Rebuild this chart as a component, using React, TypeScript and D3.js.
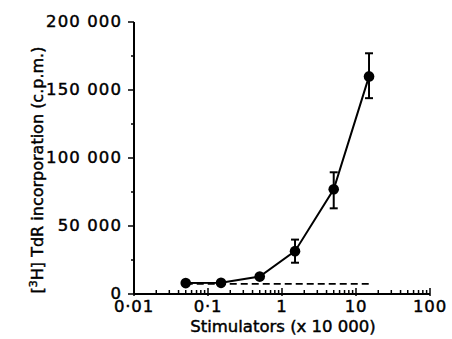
import React, { useEffect, useRef } from 'react';
import * as d3 from 'd3';

const stimulators = [0.05, 0.15, 0.5, 1.5, 5, 15];
const incorporation = [8000, 8200, 12800, 31500, 77000, 160000];
const errLow = [8000, 8200, 12000, 23000, 63000, 144000];
const errHigh = [8000, 8200, 13600, 40000, 89500, 177000];
const baseline = 7500;
const baselineRange = [0.05, 15];

const xTicks = [0.01, 0.1, 1, 10, 100];
const xTickLabels = ['0·01', '0·1', '1', '10', '100'];
const yTicks = [0, 50000, 100000, 150000, 200000];
const yTickLabels = ['0', '50 000', '100 000', '150 000', '200 000'];

export default function App() {
  const svgRef = useRef<SVGSVGElement>(null);
  const width = 452;
  const height = 339;

  useEffect(() => {
    document.body.style.margin = '0';
    if (!svgRef.current) return;
    const svg = d3.select(svgRef.current);
    svg.selectAll('*').remove();

    const font = "'DejaVu Sans', sans-serif";
    const x = d3.scaleLog().domain([0.01, 100]).range([134, 430]);
    const y = d3.scaleLinear().domain([0, 200000]).range([294, 22]);

    // text helper: medium weight look via thin stroke
    const txt = (sel: any, size: number) => sel.style('font-family', font).style('font-size', `${size}px`)
      .attr('fill', '#000').attr('stroke', '#000').attr('stroke-width', 0.45);

    // axes lines
    svg.append('line').attr('x1', x(0.01)).attr('x2', x(100)).attr('y1', y(0)).attr('y2', y(0)).attr('stroke', '#000').attr('stroke-width', 2);
    svg.append('line').attr('x1', x(0.01)).attr('x2', x(0.01)).attr('y1', y(0)).attr('y2', y(200000)).attr('stroke', '#000').attr('stroke-width', 2);

    // y ticks
    const yMinor = d3.range(25000, 200000, 50000);
    svg.selectAll('.ymaj').data(yTicks).enter().append('line')
      .attr('x1', x(0.01) - 6).attr('x2', x(0.01)).attr('y1', d => y(d)).attr('y2', d => y(d))
      .attr('stroke', '#000').attr('stroke-width', 1.5);
    svg.selectAll('.ymin').data(yMinor).enter().append('line')
      .attr('x1', x(0.01) - 3).attr('x2', x(0.01)).attr('y1', d => y(d)).attr('y2', d => y(d))
      .attr('stroke', '#000').attr('stroke-width', 1.5);
    txt(svg.selectAll('.ylab').data(yTicks).enter().append('text')
      .attr('x', x(0.01) - 12).attr('y', d => y(d) + 5).attr('text-anchor', 'end')
      .style('letter-spacing', '1.1px'), 16.5)
      .text((d: number, i: number) => yTickLabels[i]);

    // x ticks (log minor)
    const xMinor: number[] = [];
    [0.01, 0.1, 1, 10].forEach(dec => { for (let k = 2; k <= 9; k++) xMinor.push(dec * k); });
    svg.selectAll('.xmin').data(xMinor).enter().append('line')
      .attr('x1', d => x(d)).attr('x2', d => x(d)).attr('y1', y(0)).attr('y2', y(0) - 4)
      .attr('stroke', '#000').attr('stroke-width', 1.5);
    svg.selectAll('.xmaj').data(xTicks).enter().append('line')
      .attr('x1', d => x(d)).attr('x2', d => x(d)).attr('y1', y(0) + 2).attr('y2', y(0) - 6)
      .attr('stroke', '#000').attr('stroke-width', 1.5);
    txt(svg.selectAll('.xlab').data(xTicks).enter().append('text')
      .attr('x', d => x(d)).attr('y', 312).attr('text-anchor', 'middle')
      .style('letter-spacing', '0.8px'), 16.5)
      .text((d: number, i: number) => xTickLabels[i]);

    // axis titles
    txt(svg.append('text').attr('x', 283).attr('y', 332).attr('text-anchor', 'middle'), 16.5)
      .text('Stimulators (x 10 000)');
    const yt = txt(svg.append('text').attr('transform', 'translate(43,170) rotate(-90)').attr('text-anchor', 'middle'), 16);
    yt.append('tspan').text('[');
    yt.append('tspan').attr('dy', -6).style('font-size', '11px').text('3');
    yt.append('tspan').attr('dy', 6).text('H] TdR incorporation (c.p.m.)');

    // baseline dashed
    svg.append('line').attr('x1', x(baselineRange[0])).attr('x2', x(baselineRange[1]))
      .attr('y1', y(baseline)).attr('y2', y(baseline))
      .attr('stroke', '#000').attr('stroke-width', 1.7).attr('stroke-dasharray', '7,4');

    const data = stimulators.map((s, i) => ({ s, v: incorporation[i], lo: errLow[i], hi: errHigh[i] }));

    // error bars
    const eb = svg.selectAll('.eb').data(data.filter(d => d.hi - d.lo > 2000)).enter().append('g');
    eb.append('line').attr('x1', d => x(d.s)).attr('x2', d => x(d.s)).attr('y1', d => y(d.lo)).attr('y2', d => y(d.hi)).attr('stroke', '#000').attr('stroke-width', 2);
    eb.append('line').attr('x1', d => x(d.s) - 4).attr('x2', d => x(d.s) + 4).attr('y1', d => y(d.lo)).attr('y2', d => y(d.lo)).attr('stroke', '#000').attr('stroke-width', 2);
    eb.append('line').attr('x1', d => x(d.s) - 4).attr('x2', d => x(d.s) + 4).attr('y1', d => y(d.hi)).attr('y2', d => y(d.hi)).attr('stroke', '#000').attr('stroke-width', 2);

    const line = d3.line<any>().x(d => x(d.s)).y(d => y(d.v));
    svg.append('path').datum(data).attr('fill', 'none').attr('stroke', '#000').attr('stroke-width', 2).attr('d', line);

    svg.selectAll('.pt').data(data).enter().append('circle')
      .attr('cx', d => x(d.s)).attr('cy', d => y(d.v)).attr('r', 5.3).attr('fill', '#000');
  }, []);

  return <svg ref={svgRef} width={width} height={height} style={{ display: 'block', background: '#fff' }} />;
}
